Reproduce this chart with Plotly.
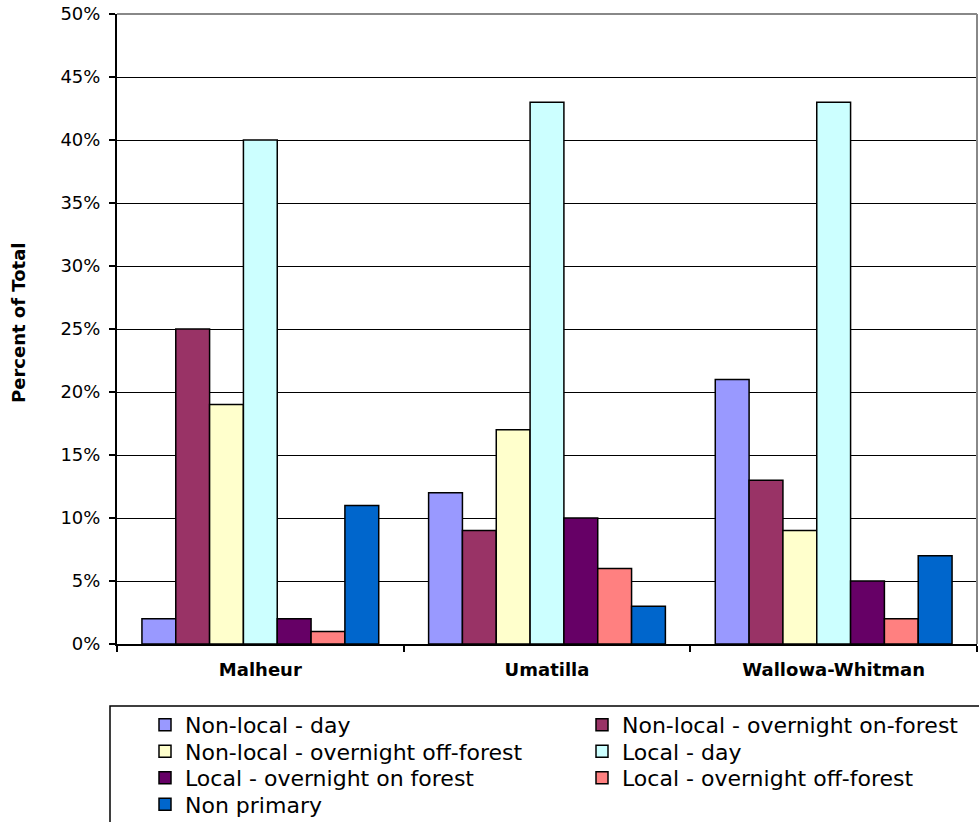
import plotly.graph_objects as go

categories = ["Malheur", "Umatilla", "Wallowa-Whitman"]
series_names = [
    "Non-local - day",
    "Non-local - overnight on-forest",
    "Non-local - overnight off-forest",
    "Local - day",
    "Local - overnight on forest",
    "Local - overnight off-forest",
    "Non primary",
]
nonlocal_day = [2, 12, 21]
nonlocal_on = [25, 9, 13]
nonlocal_off = [19, 17, 9]
local_day = [40, 43, 43]
local_on = [2, 10, 5]
local_off = [1, 6, 2]
non_primary = [11, 3, 7]
values = [nonlocal_day, nonlocal_on, nonlocal_off, local_day, local_on, local_off, non_primary]
colors = ["#9999FF", "#993366", "#FFFFCC", "#CCFFFF", "#660066", "#FF8080", "#0066CC"]
y_ticks = [0, 5, 10, 15, 20, 25, 30, 35, 40, 45, 50]
y_ticklabels = [f"{v}%" for v in y_ticks]
y_title = "Percent of Total"

FONT = "DejaVu Sans, Liberation Sans, Arial, sans-serif"
W, H = 979, 822
ml, mr, mt, mb = 117, 2, 14, 178
pw = W - ml - mr
ph = H - mt - mb

# legend layout: two columns, four rows (positions in pixels)
col_x = [145, 582]
row_y = [725, 751.5, 778, 804.5]

fig = go.Figure()
legends = {}
for i, (name, vals, col) in enumerate(zip(series_names, values, colors)):
    key = "legend" if i == 0 else f"legend{i + 1}"
    fig.add_trace(go.Bar(
        name=name, x=categories, y=vals,
        marker=dict(color=col, line=dict(color="black", width=1.5)),
        legend=key,
    ))
    r, c = divmod(i, 2)
    legends[key] = dict(
        xref="container", yref="container",
        x=col_x[c] / W, xanchor="left",
        y=1 - row_y[r] / H, yanchor="middle",
        font=dict(size=22, color="black", family=FONT),
        bgcolor="rgba(0,0,0,0)", borderwidth=0,
        itemwidth=30,
    )

fig.update_layout(
    width=W, height=H,
    margin=dict(l=ml, r=mr, t=mt, b=mb, pad=0, autoexpand=False),
    paper_bgcolor="white", plot_bgcolor="white",
    barmode="group", bargap=0.174, bargroupgap=0,
    font=dict(family=FONT, color="black"),
    showlegend=True,
    xaxis=dict(
        showline=True, linecolor="black", linewidth=2,
        ticks="outside", tickcolor="black", ticklen=6, tickwidth=1.5,
        tickson="boundaries", ticklabelstandoff=8,
        tickvals=categories, ticktext=[f"<b>{c}</b>" for c in categories],
        tickfont=dict(size=18, family=FONT),
        showgrid=False,
    ),
    yaxis=dict(
        range=[0, 50], tickvals=y_ticks, ticktext=y_ticklabels,
        showline=True, linecolor="black", linewidth=2,
        ticks="outside", tickcolor="black", ticklen=6, tickwidth=1.5,
        ticklabelstandoff=5,
        showgrid=True, gridcolor="black", gridwidth=1.3,
        tickfont=dict(size=18, family=FONT),
        zeroline=False,
    ),
    **legends,
)

fig.add_annotation(
    text=f"<b>{y_title}</b>", textangle=-90,
    xref="paper", yref="paper",
    x=(18 - ml) / pw, y=(mt + ph - 323) / ph,
    xanchor="center", yanchor="middle", showarrow=False,
    font=dict(size=18, family=FONT, color="black"),
)

# gray top and right plot-area border
fig.add_shape(type="line", xref="paper", yref="paper", x0=0, x1=1, y0=1, y1=1,
              line=dict(color="#888888", width=2))
fig.add_shape(type="line", xref="paper", yref="paper", x0=1, x1=1, y0=0, y1=1,
              line=dict(color="#888888", width=2))
# legend frame
fig.add_shape(type="rect", xref="paper", yref="paper",
              x0=(110 - ml) / pw, x1=(995 - ml) / pw,
              y0=(mt + ph - 706) / ph, y1=(mt + ph - 840) / ph,
              line=dict(color="black", width=1.5), fillcolor="rgba(0,0,0,0)")

fig.write_html("out.html")
